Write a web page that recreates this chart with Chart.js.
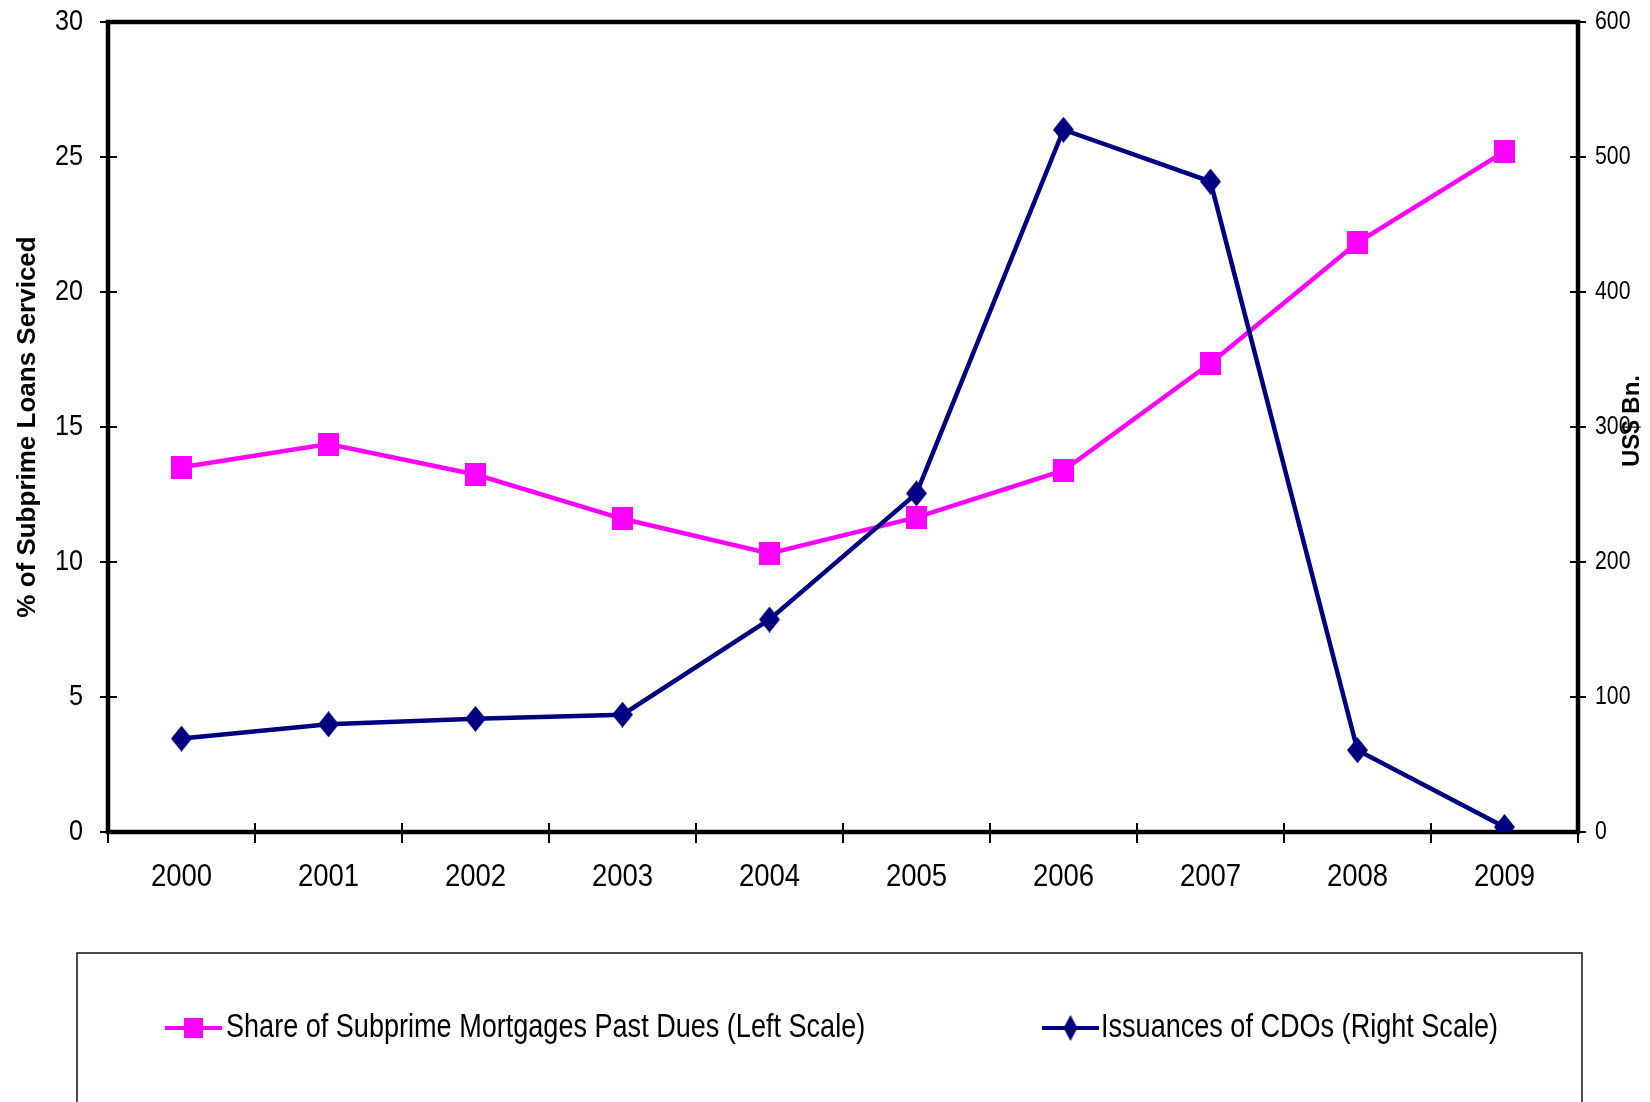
<!DOCTYPE html>
<html>
<head>
<meta charset="utf-8">
<script src="https://cdn.jsdelivr.net/npm/chart.js@4.4.1/dist/chart.umd.min.js"></script>
<style>
html, body { margin: 0; padding: 0; background: #ffffff; }
#wrap { width: 1650px; height: 1102px; position: relative; }
</style>
</head>
<body>
<div id="wrap"><canvas id="c" width="1650" height="1102"></canvas></div>
<script>
// ---- data ----
const years = ['2000', '2001', '2002', '2003', '2004', '2005', '2006', '2007', '2008', '2009'];
const pastDueShare = [13.51, 14.37, 13.24, 11.60, 10.32, 11.65, 13.39, 17.36, 21.83, 25.20];
const cdoIssuance = [69.2, 79.8, 83.8, 86.9, 157.4, 250.8, 520.2, 481.8, 60.6, 3.7];
const leftTickValues = [0, 5, 10, 15, 20, 25, 30];
const rightTickValues = [0, 100, 200, 300, 400, 500, 600];
const seriesLabels = ['Share of Subprime Mortgages Past Dues (Left Scale)', 'Issuances of CDOs (Right Scale)'];
const leftAxisTitle = '% of Subprime Loans Serviced';
const rightAxisTitle = 'US$ Bn.';

const PINK = '#ff00ff';
const NAVY = '#000080';
const FONT = '"Liberation Sans", Arial, sans-serif';

function makeMarker(kind, w, h, color) {
  const cv = document.createElement('canvas');
  cv.width = w; cv.height = h;
  const g = cv.getContext('2d');
  g.fillStyle = color;
  if (kind === 'square') {
    g.fillRect(0, 0, w, h);
  } else {
    g.beginPath();
    g.moveTo(w / 2, 0); g.lineTo(w, h / 2); g.lineTo(w / 2, h); g.lineTo(0, h / 2);
    g.closePath(); g.fill();
  }
  return cv;
}
const squareMarker = makeMarker('square', 21, 23, PINK);
const diamondMarker = makeMarker('diamond', 21, 26, NAVY);
const legendSquare = makeMarker('square', 19, 20, PINK);
const legendDiamond = makeMarker('diamond', 14, 26, NAVY);

// the reference uses a condensed face: draw regular text squeezed horizontally
function narrowText(ctx, text, x, y, size, align, squeeze) {
  ctx.save();
  ctx.translate(x, y);
  ctx.scale(squeeze, 1);
  ctx.font = size + 'px ' + FONT;
  ctx.textAlign = align;
  ctx.textBaseline = 'middle';
  ctx.fillStyle = '#000';
  ctx.fillText(text, 0, 0);
  ctx.restore();
}

const framePlugin = {
  id: 'frame',
  beforeDatasetsDraw(chart) {
    const {ctx, chartArea: a, scales} = chart;
    ctx.save();
    ctx.strokeStyle = '#000';
    ctx.lineWidth = 2;
    ctx.beginPath();
    leftTickValues.forEach(v => {
      const y = Math.round(scales.yL.getPixelForValue(v));
      ctx.moveTo(a.left - 8, y); ctx.lineTo(a.left + 9, y);
    });
    rightTickValues.forEach(v => {
      const y = Math.round(scales.yR.getPixelForValue(v));
      ctx.moveTo(a.right - 8, y); ctx.lineTo(a.right + 8, y);
    });
    for (let i = 0; i <= years.length; i++) {
      const x = Math.round(scales.x.getPixelForValue(i - 0.5));
      ctx.moveTo(x, a.bottom - 9); ctx.lineTo(x, a.bottom + 11);
    }
    ctx.stroke();
    ctx.lineWidth = 4.5;
    ctx.strokeRect(a.left, a.top, a.right - a.left, a.bottom - a.top);
    ctx.restore();

    leftTickValues.forEach(v => {
      narrowText(ctx, String(v), a.left - 25, scales.yL.getPixelForValue(v), 30, 'right', 0.84);
    });
    rightTickValues.forEach(v => {
      narrowText(ctx, String(v), a.right + 17, scales.yR.getPixelForValue(v), 25, 'left', 0.85);
    });
    years.forEach((yr, i) => {
      narrowText(ctx, yr, scales.x.getPixelForValue(i), a.bottom + 45, 32, 'center', 0.86);
    });
  },
  afterDraw(chart) {
    const {ctx, chartArea: a} = chart;
    ctx.save();
    ctx.fillStyle = '#000';
    ctx.font = 'bold 24px ' + FONT;
    ctx.textAlign = 'center';
    ctx.textBaseline = 'middle';
    ctx.translate(1632, (a.top + a.bottom) / 2 - 6);
    ctx.rotate(-Math.PI / 2);
    ctx.fillText(rightAxisTitle, 0, 0);
    ctx.restore();

    ctx.save();
    ctx.strokeStyle = '#111';
    ctx.lineWidth = 1.5;
    ctx.strokeRect(77, 953, 1582 - 77, 200);
    const items = [
      {label: seriesLabels[0], color: PINK, marker: legendSquare, x0: 165, x1: 222, tx: 226},
      {label: seriesLabels[1], color: NAVY, marker: legendDiamond, x0: 1042, x1: 1099, tx: 1101}
    ];
    const ly = 1028;
    items.forEach(it => {
      ctx.strokeStyle = it.color;
      ctx.lineWidth = 4;
      ctx.beginPath();
      ctx.moveTo(it.x0, ly); ctx.lineTo(it.x1, ly);
      ctx.stroke();
      const mx = (it.x0 + it.x1) / 2;
      ctx.drawImage(it.marker, mx - it.marker.width / 2, ly - it.marker.height / 2);
      narrowText(ctx, it.label, it.tx, ly, 33, 'left', 0.82);
    });
    ctx.restore();
  }
};

new Chart(document.getElementById('c'), {
  type: 'line',
  data: {
    labels: years,
    datasets: [
      {
        label: seriesLabels[0],
        data: pastDueShare,
        yAxisID: 'yL',
        borderColor: PINK,
        backgroundColor: PINK,
        borderWidth: 4.5,
        pointStyle: squareMarker,
        pointRadius: 11,
        tension: 0,
        order: 2
      },
      {
        label: seriesLabels[1],
        data: cdoIssuance,
        yAxisID: 'yR',
        borderColor: NAVY,
        backgroundColor: NAVY,
        borderWidth: 4.5,
        pointStyle: diamondMarker,
        pointRadius: 11,
        tension: 0,
        order: 1
      }
    ]
  },
  options: {
    responsive: false,
    animation: false,
    devicePixelRatio: 1,
    layout: { padding: { top: 22, left: 0, right: 0, bottom: 0 } },
    plugins: { legend: { display: false }, tooltip: { enabled: false } },
    scales: {
      x: {
        type: 'category',
        position: 'bottom',
        offset: true,
        grid: { display: false, drawTicks: false },
        border: { display: false },
        ticks: { display: false, autoSkip: false },
        afterFit: s => { s.height = 270; }
      },
      yL: {
        position: 'left',
        min: 0, max: 30,
        grid: { display: false, drawTicks: false },
        border: { display: false },
        ticks: { display: false, stepSize: 5 },
        title: { display: true, text: leftAxisTitle, color: '#000', font: { family: FONT, size: 26, weight: 'bold' }, padding: { top: 12, bottom: 0 } },
        afterFit: s => { s.width = 108; }
      },
      yR: {
        position: 'right',
        min: 0, max: 600,
        grid: { display: false, drawTicks: false },
        border: { display: false },
        ticks: { display: false, stepSize: 100 },
        afterFit: s => { s.width = 72; }
      }
    }
  },
  plugins: [framePlugin]
});
</script>
</body>
</html>
